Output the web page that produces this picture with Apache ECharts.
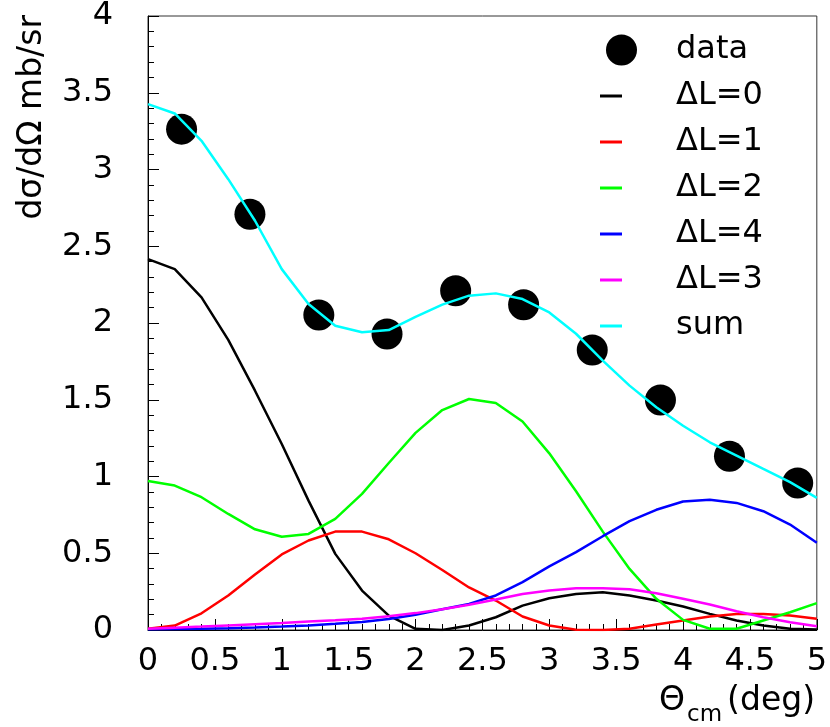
<!DOCTYPE html>
<html>
<head>
<meta charset="utf-8">
<script src="https://cdn.jsdelivr.net/npm/echarts@6/dist/echarts.min.js"></script>
<style>html,body{margin:0;padding:0;background:#fff;}#c{width:830px;height:727px;}</style>
</head>
<body>
<div id="c"></div>
<script>
// Angle grid of the calculated curves (deg)
const theta = [0,0.2,0.4,0.6,0.8,1.0,1.2,1.4,1.6,1.8,2.0,2.2,2.4,2.6,2.8,3.0,3.2,3.4,3.6,3.8,4.0,4.2,4.4,4.6,4.8,5.0];
// Component curves (mb/sr)
const dL0 = [2.416,2.351,2.167,1.890,1.559,1.212,0.843,0.496,0.257,0.094,0.008,0.000,0.029,0.083,0.159,0.207,0.235,0.246,0.225,0.192,0.153,0.105,0.062,0.029,0.008,0.003];
const dL1 = [0.008,0.029,0.109,0.225,0.361,0.492,0.583,0.641,0.641,0.591,0.500,0.391,0.277,0.192,0.088,0.029,0.001,0.000,0.008,0.036,0.062,0.088,0.105,0.105,0.095,0.073];
const dL2 = [0.971,0.941,0.865,0.756,0.656,0.607,0.626,0.724,0.887,1.088,1.284,1.433,1.505,1.479,1.358,1.151,0.904,0.641,0.398,0.203,0.066,0.008,0.008,0.062,0.116,0.175];
const dL4 = [0.005,0.006,0.008,0.011,0.016,0.022,0.030,0.040,0.052,0.072,0.100,0.135,0.170,0.225,0.312,0.414,0.507,0.611,0.709,0.783,0.837,0.848,0.828,0.774,0.687,0.568];
const dL3 = [0.008,0.015,0.022,0.030,0.038,0.046,0.055,0.064,0.074,0.090,0.110,0.135,0.165,0.199,0.235,0.257,0.272,0.272,0.266,0.240,0.203,0.166,0.122,0.083,0.051,0.025];
const sum = [3.426,3.365,3.187,2.937,2.666,2.351,2.124,1.982,1.940,1.954,2.040,2.120,2.178,2.193,2.156,2.069,1.930,1.755,1.592,1.451,1.331,1.223,1.136,1.049,0.963,0.861];
// Measured data
const dataTheta = [0.251,0.762,1.277,1.787,2.300,2.808,3.321,3.831,4.347,4.857];
const dataXS = [3.263,2.709,2.052,1.928,2.210,2.119,1.824,1.498,1.132,0.958];
// Tick labels
const yTicks = ['0','0.5','1','1.5','2','2.5','3','3.5','4'];

const FONT = 'DejaVu Sans';
const pairs = (xs, ys) => xs.map((x, i) => [x, ys[i]]);

const chart = echarts.init(document.getElementById('c'), null, {renderer: 'canvas'});

const lineSeries = (name, ys, color) => ({
  name, type: 'line', data: pairs(theta, ys), showSymbol: false, symbol: 'none',
  lineStyle: {color, width: 2.5, opacity: 1}, itemStyle: {color, opacity: 1}, smooth: false, z: 3
});

chart.setOption({
  animation: false,
  backgroundColor: '#fff',
  grid: {left: 148, right: 12, top: 15, bottom: 97, show: true, borderColor: '#333', borderWidth: 1, containLabel: false},
  xAxis: {
    type: 'value', min: 0, max: 5, interval: 0.5,
    axisLine: {show: true, onZero: false, lineStyle: {color: '#000', width: 1}},
    axisTick: {show: true, inside: true, length: 11, lineStyle: {color: '#000'}},
    minorTick: {show: true, splitNumber: 5, length: 6, lineStyle: {color: '#000'}},
    splitLine: {show: false},
    axisLabel: {fontFamily: FONT, fontSize: 32, color: '#000', margin: 16,
      formatter: v => String(Math.round(v * 10) / 10)}
  },
  yAxis: {
    type: 'value', min: 0, max: 4, interval: 0.5,
    axisLine: {show: true, onZero: false, lineStyle: {color: '#000', width: 1}},
    axisTick: {show: true, inside: true, length: 11, lineStyle: {color: '#000'}},
    minorTick: {show: true, splitNumber: 5, length: 6, lineStyle: {color: '#000'}},
    splitLine: {show: false},
    axisLabel: {fontFamily: FONT, fontSize: 32, color: '#000', margin: 35, padding: [8, 0, 0, 0],
      formatter: v => yTicks[Math.round(v * 2)]}
  },
  legend: [
    {
      data: [{name: 'data', icon: 'circle', itemStyle: {color: '#000', opacity: 1}}],
      orient: 'vertical', left: 601, top: 25, itemWidth: 31, itemHeight: 31,
      textStyle: {fontFamily: FONT, fontSize: 32, color: '#000', lineHeight: 40, padding: [0, 0, 0, 34]},
      selectedMode: false
    },
    {
      data: ['ΔL=0', 'ΔL=1', 'ΔL=2', 'ΔL=4', 'ΔL=3', 'sum'].map(n => ({name: n, icon: 'rect'})),
      orient: 'vertical', left: 595, top: 71, itemWidth: 22, itemHeight: 3, itemGap: 6,
      textStyle: {fontFamily: FONT, fontSize: 32, color: '#000', lineHeight: 40, padding: [0, 0, 0, 49]},
      selectedMode: false
    }
  ],
  series: [
    {name: 'data', type: 'scatter', data: pairs(dataTheta, dataXS), symbol: 'circle', symbolSize: 31,
     itemStyle: {color: '#000', opacity: 1}, z: 2},
    lineSeries('ΔL=0', dL0, '#000000'),
    lineSeries('ΔL=1', dL1, '#ff0000'),
    lineSeries('ΔL=2', dL2, '#00ff00'),
    lineSeries('ΔL=4', dL4, '#0000ff'),
    lineSeries('ΔL=3', dL3, '#ff00ff'),
    lineSeries('sum', sum, '#00ffff')
  ],
  graphic: [
    {type: 'text', x: 32, y: 15, rotation: Math.PI / 2,
     style: {text: 'dσ/dΩ mb/sr', fontFamily: FONT, fontSize: 33, fill: '#000', align: 'right', verticalAlign: 'middle'}},
    {type: 'text', x: 659, y: 701,
     style: {text: 'Θ', fontFamily: FONT, fontSize: 33, fill: '#000', align: 'left', verticalAlign: 'middle'}},
    {type: 'text', x: 687, y: 715,
     style: {text: 'cm', fontFamily: FONT, fontSize: 23, fill: '#000', align: 'left', verticalAlign: 'middle'}},
    {type: 'text', x: 815, y: 701,
     style: {text: '(deg)', fontFamily: FONT, fontSize: 33, fill: '#000', align: 'right', verticalAlign: 'middle'}}
  ]
});
</script>
</body>
</html>
